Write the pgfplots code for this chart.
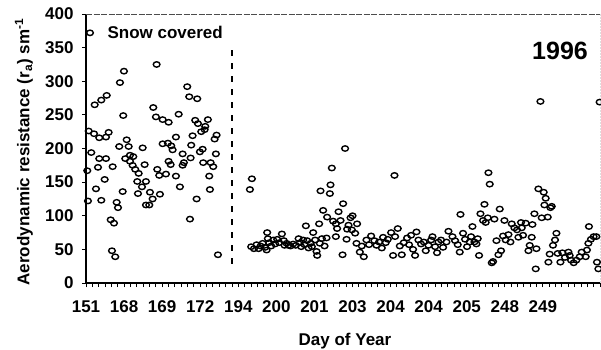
\documentclass[border=0pt]{standalone}
\usepackage{pgfplots}
\pgfplotsset{compat=1.18}
\usepackage{pgfplotstable}
\usepackage{fontspec}
\setmainfont{Liberation Sans}

% x: observation index (one tick per observation block), y: r_a in s/m
\pgfplotstableread{
x y
0.63 372
11.13 325
5.98 315
5.35 298
15.95 292
1.37 265
2.41 272
3.26 279
5.87 249
10.60 261
16.27 277
17.53 274
11.02 247
12.08 243
13.02 239
14.60 251
17.21 242
19.21 243
17.64 237
18.79 233
0.43 226
1.26 222
2.09 216
3.15 217
3.57 224
6.41 213
18.16 225
18.69 228
16.80 219
20.58 220
20.27 214
14.17 217
5.24 203
8.93 201
12.08 207
12.91 208
13.43 204
16.58 205
18.38 199
6.72 203
13.65 198
0.83 194
2.09 185
3.15 185
6.19 185
6.93 190
7.45 188
15.23 192
16.49 186
17.95 195
20.47 192
6.93 181
13.02 181
13.34 176
15.23 175
15.43 179
18.47 179
19.64 179
20.05 173
0.20 167
1.89 172
4.20 173
7.35 175
7.76 169
9.24 176
8.30 163
11.23 169
11.54 160
12.60 162
14.17 159
2.94 154
8.08 151
9.45 151
8.82 143
14.80 143
19.42 159
1.57 140
5.78 136
8.19 133
10.08 135
11.65 132
10.50 125
19.53 139
0.31 122
2.41 123
4.83 120
5.04 112
9.45 116
9.97 116
17.43 125
3.89 94
4.41 89
16.38 95
4.09 48
4.61 39
20.79 42
}\snowdata

\pgfplotstableread{
x y
25.83 139
26.14 155
26.03 54
26.46 51
26.88 57
27.20 51
27.51 55
27.83 59
28.24 53
28.46 49
28.55 75
28.66 66
28.87 60
29.18 55
29.50 64
29.81 58
30.13 65
30.44 60
30.87 73
31.18 63
31.29 56
31.61 59
31.92 56
32.24 55
32.65 58
33.07 56
33.50 66
33.70 60
33.91 54
34.22 64
34.44 57
34.65 85
34.85 63
35.07 52
35.39 59
35.59 54
35.80 75
36.11 64
36.33 47
36.43 41
36.74 88
36.85 59
36.96 137
37.17 66
37.37 108
37.59 55
37.91 67
38.00 98
38.43 133
38.53 146
38.74 171
38.94 92
39.37 69
39.37 88
39.57 81
39.80 106
40.11 93
40.43 42
40.52 118
40.83 200
41.06 65
41.15 80
41.37 86
41.69 97
42.00 100
41.89 79
42.41 74
42.63 59
42.72 88
43.15 46
43.46 55
43.78 39
44.20 64
44.61 57
44.93 70
45.46 63
45.78 56
46.19 61
46.61 52
46.82 68
47.24 60
47.56 65
48.08 75
48.39 41
48.61 160
48.71 69
49.13 81
49.45 55
49.76 42
50.08 60
50.60 67
50.91 57
51.23 71
51.54 50
51.86 41
52.08 76
52.39 64
52.80 58
53.23 61
53.54 48
53.97 56
54.38 64
54.60 69
55.01 54
55.32 45
55.54 61
55.95 64
56.27 53
56.80 61
57.12 77
57.75 69
58.16 63
58.58 57
58.90 46
59.01 102
59.42 74
59.73 65
60.05 54
60.47 61
60.90 84
60.68 69
61.21 61
61.73 66
61.52 58
61.94 41
62.16 103
62.79 117
63.42 164
63.62 147
62.57 93
62.99 90
63.31 97
64.36 95
63.94 30
64.14 32
64.68 63
64.99 42
65.40 48
65.20 110
65.72 70
65.94 93
66.14 64
66.57 72
66.88 61
67.09 88
67.51 82
67.92 79
68.14 68
68.55 90
68.66 82
68.87 71
69.29 89
69.72 48
69.92 56
70.24 68
70.35 87
70.66 103
70.98 51
70.87 21
71.29 140
71.81 97
72.13 135
72.44 126
72.24 116
72.76 98
73.18 112
73.39 114
71.61 270
72.87 31
73.07 43
73.59 56
73.91 64
74.13 74
74.33 44
74.76 31
75.07 45
75.48 38
76.02 46
76.22 41
76.43 34
76.85 30
77.28 34
77.80 39
78.11 46
78.74 39
78.94 49
79.17 59
79.26 84
79.57 65
79.99 69
80.42 69
80.52 31
80.74 21
80.94 269
}\snowfreedata

\begin{document}
\begin{tikzpicture}[font=\bfseries]
\useasboundingbox (-86pt,-66pt) rectangle (515pt,283pt);
\begin{axis}[
  scale only axis, width=514pt, height=269pt,
  xmin=0, xmax=81, ymin=0, ymax=400,
  axis lines*=left,
  axis line style={line width=1.2pt, black},
  xtick={0,6,...,72},
  xticklabels={151,168,169,172,194,200,201,203,204,204,205,248,249},
  minor xtick={0,...,81},
  ytick={0,50,...,400},
  tick align=outside,
  major tick length=4pt, minor tick length=4pt,
  tick style={black, line width=0.9pt},
  /pgf/number format/assume math mode=true,
  ticklabel style={font=\bfseries\fontsize{17}{19}\selectfont},
  xticklabel style={yshift=-10pt},
  yticklabel style={xshift=-5pt},
]
% upper and right frame, drawn light and broken
\draw[gray!60!black, line width=0.8pt, dash pattern=on 6pt off 1.5pt]
  (rel axis cs:0,1) -- (rel axis cs:1,1);
\draw[black, line width=0.8pt, dash pattern=on 1.5pt off 1.5pt]
  (rel axis cs:1,1) -- (rel axis cs:1,0);
% end of snow cover
\draw[black, line width=1.1pt, dash pattern=on 6pt off 7pt] (axis cs:23,346) -- (axis cs:23,19);

\addplot[only marks, mark=o, mark size=3pt,
  mark options={black, line width=1.4pt, xscale=1.12, yscale=0.9}]
  table[x=x, y=y] {\snowdata};
\addplot[only marks, mark=o, mark size=3pt,
  mark options={black, line width=1.4pt, xscale=1.12, yscale=0.9}]
  table[x=x, y=y] {\snowfreedata};
\end{axis}
\node[anchor=west, font=\bfseries\fontsize{17}{19}\selectfont] at (18pt,251pt) {Snow covered};
\node[font=\bfseries\fontsize{25}{28}\selectfont] at (474pt,232pt) {1996};
\node[font=\bfseries\fontsize{17}{19}\selectfont] at (259pt,-58pt) {Day of Year};
\node[rotate=90, font=\bfseries\fontsize{17}{19}\selectfont] at (-62pt,131pt)
  {Aerodynamic resistance (r\textsubscript{a}) sm\textsuperscript{-1}};
\end{tikzpicture}
\end{document}
